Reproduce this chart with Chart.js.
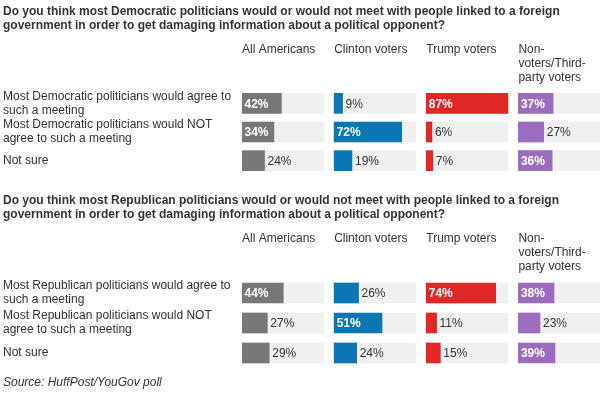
<!DOCTYPE html>
<html>
<head>
<meta charset="utf-8">
<script src="https://cdn.jsdelivr.net/npm/chart.js@4.4.1/dist/chart.umd.min.js"></script>
<style>
  body { margin: 0; background: #fff; }
  .panel { position: absolute; left: 0; }
</style>
</head>
<body>
<canvas id="demChart" class="panel" width="613" height="189" style="top:0"></canvas>
<canvas id="repChart" class="panel" width="613" height="207" style="top:189px"></canvas>
<script>
// Column groups (voter groups) and their bar colours
const groupNames = ["All Americans", "Clinton voters", "Trump voters", ["Non-", "voters/Third-", "party voters"]];
const groupColors = ["#777777", "#0a77b4", "#e02726", "#9b6cc0"];

// Democratic politicians question
const demQuestion = [
  "Do you think most Democratic politicians would or would not meet with people linked to a foreign",
  "government in order to get damaging information about a political opponent?",
];
const demRows = [
  ["Most Democratic politicians would agree to", "such a meeting"],
  ["Most Democratic politicians would NOT", "agree to such a meeting"],
  "Not sure",
];
const demAll = [42, 34, 24];
const demClinton = [9, 72, 19];
const demTrump = [87, 6, 7];
const demOther = [37, 27, 36];

// Republican politicians question
const repQuestion = [
  "Do you think most Republican politicians would or would not meet with people linked to a foreign",
  "government in order to get damaging information about a political opponent?",
];
const repRows = [
  ["Most Republican politicians would agree to", "such a meeting"],
  ["Most Republican politicians would NOT", "agree to such a meeting"],
  "Not sure",
];
const repAll = [44, 27, 29];
const repClinton = [26, 51, 24];
const repTrump = [74, 11, 15];
const repOther = [38, 23, 39];

const sourceText = "Source: HuffPost/YouGov poll";

// every bar track is scaled to the largest value of the whole graphic
const maxValue = Math.max(...demAll, ...demClinton, ...demTrump, ...demOther,
  ...repAll, ...repClinton, ...repTrump, ...repOther);
const gap = 11.2;
const step = maxValue + gap;

Chart.defaults.font.family = "'Liberation Sans', Arial, Helvetica, sans-serif";
Chart.defaults.font.size = 12;
Chart.defaults.color = "#333";

// Column headers above every group
const headerPlugin = {
  id: "headers",
  afterDraw(chart) {
    const ctx = chart.ctx;
    const x = chart.scales.x;
    const top = chart.chartArea.top;
    ctx.save();
    ctx.font = "12px 'Liberation Sans', Arial, sans-serif";
    ctx.fillStyle = "#333";
    ctx.textAlign = "left";
    ctx.textBaseline = "middle";
    groupNames.forEach((name, g) => {
      const lines = Array.isArray(name) ? name : [name];
      lines.forEach((line, i) => {
        ctx.fillText(line, x.getPixelForValue(g * step), top - 39 + i * 13.7);
      });
    });
    ctx.restore();
  },
};

// Percent labels: white bold inside big bars, dark outside small ones
const valueLabelPlugin = {
  id: "valueLabels",
  afterDatasetsDraw(chart) {
    const ctx = chart.ctx;
    ctx.save();
    ctx.textBaseline = "middle";
    ctx.textAlign = "left";
    chart.data.datasets.forEach((ds, i) => {
      if (!ds.values) return;
      chart.getDatasetMeta(i).data.forEach((bar, j) => {
        const v = ds.values[j];
        if (v >= 30) {
          ctx.font = "bold 12px 'Liberation Sans', Arial, sans-serif";
          ctx.fillStyle = "#fff";
          ctx.fillText(v + "%", bar.base + 2.5, bar.y + 1);
        } else {
          ctx.font = "12px 'Liberation Sans', Arial, sans-serif";
          ctx.fillStyle = "#333";
          ctx.fillText(v + "%", bar.x + 3, bar.y + 1);
        }
      });
    });
    ctx.restore();
  },
};

function makeChart(id, question, rows, series, withSource) {
  const datasets = [];
  series.forEach((vals, g) => {
    datasets.push({
      values: vals,
      data: vals.map((v) => [g * step, g * step + v]),
      backgroundColor: groupColors[g],
      order: 1,
    });
    datasets.push({
      data: vals.map(() => [g * step, g * step + maxValue]),
      backgroundColor: "#f0f0f0",
      order: 2,
    });
  });

  return new Chart(document.getElementById(id), {
    type: "bar",
    data: { labels: rows, datasets: datasets },
    options: {
      indexAxis: "y",
      responsive: false,
      animation: false,
      datasets: { bar: { grouped: false, barThickness: 20 } },
      layout: { padding: { left: 3, right: 13, top: 0, bottom: withSource ? 0 : 10 } },
      scales: {
        x: { type: "linear", min: 0, max: 3 * step + maxValue, display: false },
        y: {
          grid: { display: false },
          border: { display: false },
          afterFit: (s) => { s.width = 239; },
          ticks: {
            autoSkip: false,
            crossAlign: "far",
            padding: 0,
            color: "#333",
            font: { size: 12, lineHeight: 1.1667 },
          },
        },
      },
      plugins: {
        legend: { display: false },
        tooltip: { enabled: false },
        title: {
          display: true,
          text: question,
          align: "start",
          color: "#333",
          font: { size: 12, weight: "bold", lineHeight: 1.1667 },
          padding: { top: 5, bottom: 56 },
        },
        subtitle: {
          display: withSource,
          text: sourceText,
          position: "bottom",
          align: "start",
          color: "#333",
          font: { size: 12, style: "italic", lineHeight: 1.1667 },
          padding: { top: 8, bottom: 6 },
        },
      },
    },
    plugins: [headerPlugin, valueLabelPlugin],
  });
}

makeChart("demChart", demQuestion, demRows, [demAll, demClinton, demTrump, demOther], false);
makeChart("repChart", repQuestion, repRows, [repAll, repClinton, repTrump, repOther], true);
</script>
</body>
</html>
